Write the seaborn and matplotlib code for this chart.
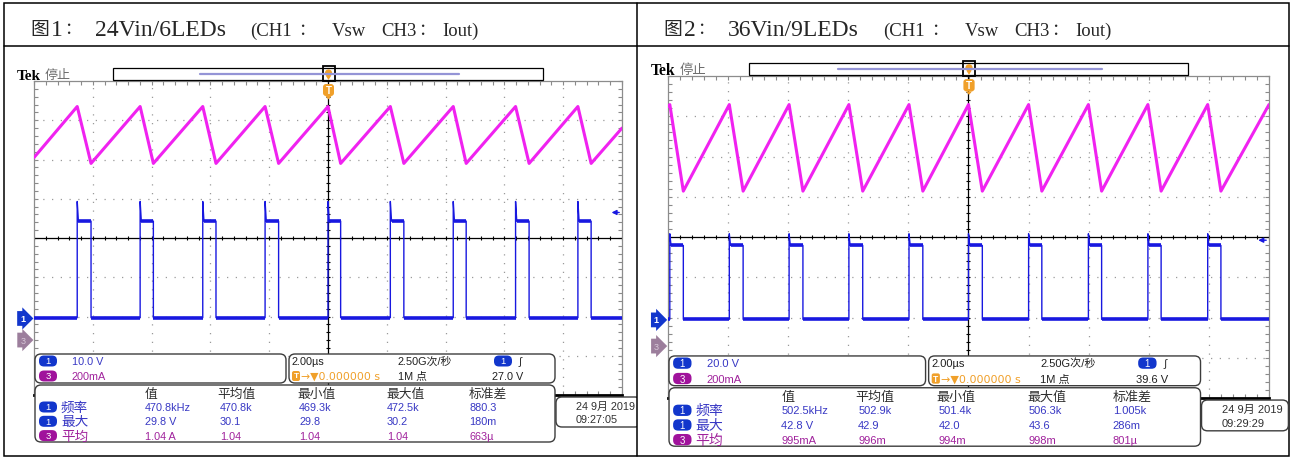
import numpy as np
import seaborn as sns
import matplotlib.pyplot as plt
from matplotlib.patches import FancyBboxPatch, Rectangle, Polygon, Circle

W, H = 1291, 460

# ---- values ----
title_num = ["1", "2"]
title_cond = ["24Vin/6LEDs", "36Vin/9LEDs"]
sub_parts = ["(CH1", "：", "Vsw", "CH3", "：", "Iout)"]

# Vsw switching edges in µs (trigger at 0, 2.00µs/div -> screen is -10..10 µs)
rise_1 = [-8.53, -6.39, -4.26, -2.14, 0.00, 2.12, 4.26, 6.38, 8.50]
fall_1 = [-8.06, -5.94, -3.81, -1.68, 0.43, 2.58, 4.70, 6.84, 8.95]
rise_2 = [-9.94, -7.96, -5.97, -3.98, -1.98, 0.00, 2.00, 3.99, 5.97, 7.96]
fall_2 = [-9.49, -7.50, -5.51, -3.52, -1.52, 0.46, 2.44, 4.43, 6.41, 8.40]

# Vsw: low, high, ringing peak (V)
vsw_1 = [0.2, 24.8, 29.8]
vsw_2 = [0.3, 37.0, 42.8]
# Iout: valley, peak, value at left screen edge, value at right screen edge (A)
iout_1 = [0.90, 1.19, 0.93, 1.08]
iout_2 = [0.77, 1.20, 1.19, 1.20]

volts_per_div = [10.0, 20.0]
amps_per_div = [0.2, 0.2]
ch1_pos = [-2.05, -2.06]   # ground markers, in divisions
ch3_pos = [-2.60, -2.71]
trig_level = [27.0, 39.6]

scale_text = [["10.0 V", "200mA"], ["20.0 V", "200mA"]]
trig_text = ["27.0 V", "39.6 V"]
meas_cols = ["值", "平均值", "最小值", "最大值", "标准差"]
meas_rows = ["频率", "最大", "平均"]
meas_ch = ["1", "1", "3"]
meas_1 = [["470.8kHz", "470.8k", "469.3k", "472.5k", "880.3"],
          ["29.8 V", "30.1", "29.8", "30.2", "180m"],
          ["1.04 A", "1.04", "1.04", "1.04", "663µ"]]
meas_2 = [["502.5kHz", "502.9k", "501.4k", "506.3k", "1.005k"],
          ["42.8 V", "42.9", "42.0", "43.6", "286m"],
          ["995mA", "996m", "994m", "998m", "801µ"]]
stamp_date = ["24 9月 2019", "24 9月 2019"]
stamp_time = ["09:27:05", "09:29:29"]

BLUE = "#1818e0"
MAG = "#f022f0"
TBLUE = "#3838c4"
TPURP = "#a0229c"
PBLUE = "#1236cc"
PPURP = "#a0129c"
ORANGE = "#f0a02a"
GRID = "#9a9a9a"

SERIF = ["Liberation Serif", "Noto Sans CJK SC", "DejaVu Sans"]
SANS = ["Liberation Sans", "Noto Sans CJK SC", "DejaVu Sans"]

sns.set_style("white")
plt.rcParams["font.family"] = SANS

fig = plt.figure(figsize=(W / 100, H / 100), dpi=100)
ov = fig.add_axes([0, 0, 1, 1], zorder=10)
ov.set_xlim(0, W)
ov.set_ylim(H, 0)
ov.axis("off")
ov.patch.set_alpha(0)

# table frame
ov.add_patch(Rectangle((4, 4), 1285, 453, fill=False, ec="black", lw=1.1))
ov.plot([4, 1289], [47, 47], color="black", lw=1.1)
ov.plot([637, 637], [4, 457], color="black", lw=1.1)


def vsw_trace(rise, fall, lv):
    low, high, spike = lv
    t, v = [-10.0], [low]
    for r, f in zip(rise, fall):
        t += [r, r, r + 0.04, f, f]
        v += [low, spike, high, high, low]
    t.append(10.0)
    v.append(low)
    return t, v


def iout_trace(rise, fall, lv):
    valley, peak, start, end = lv
    t, v = [-10.0], [start]
    for r, f in zip(rise, fall):
        t += [r, f]
        v += [peak, valley]
    t.append(10.0)
    v.append(end)
    return t, v


def panel(k, rise, fall, vsw, iout, meas, gx, gy, gw, gh, dx, clip_x):
    sx, sy = gw / 588, gh / 314
    fz = sx

    def P(x, y):
        return gx + (x - 34) * sx, gy + (y - 82) * sy

    clip = Rectangle((4, 47), clip_x - 4, 410, transform=ov.transData)

    # ---- scope screen ----
    ax = fig.add_axes([gx / W, 1 - (gy + gh) / H, gw / W, gh / H])
    ax.set_xlim(-10, 10)
    ax.set_ylim(-4, 4)
    for d in (-8, -6, -4, -2, 2, 4, 6, 8):
        ax.axvline(d, color=GRID, lw=0.9, ls=(0, (1, 6)), zorder=1)
    for d in (-3, -2, -1, 1, 2, 3):
        ax.axhline(d, color=GRID, lw=0.9, ls=(0, (1, 6)), zorder=1)
    ax.axvline(0, color="black", lw=0.9, zorder=1)
    ax.axhline(0, color="black", lw=0.9, zorder=1)
    tx = np.arange(-10, 10.01, 0.4)
    ty = np.arange(-4, 4.01, 0.2)
    ax.plot(tx, np.zeros_like(tx), ls="none", marker="|", ms=3, color="black", mew=0.8)
    ax.plot(np.zeros_like(ty), ty, ls="none", marker="_", ms=3, color="black", mew=0.8)
    ax.set_xticks(tx)
    ax.set_yticks(ty)
    ax.tick_params(direction="in", length=3, width=0.8, color="#8a8a8a",
                   labelbottom=False, labelleft=False, top=True, right=True,
                   bottom=True, left=True)
    for s in ax.spines.values():
        s.set_color("#8c8c8c")
        s.set_linewidth(0.9)
    ax.spines["bottom"].set_color("black")
    ax.spines["bottom"].set_linewidth(2)

    # Vsw (CH1)
    t, v = vsw_trace(rise, fall, vsw)
    y = [val / volts_per_div[k] + ch1_pos[k] for val in v]
    sns.lineplot(x=t, y=y, ax=ax, color=BLUE, linewidth=1.0, sort=False,
                 estimator=None, zorder=3)
    lo = vsw[0] / volts_per_div[k] + ch1_pos[k]
    hi = vsw[1] / volts_per_div[k] + ch1_pos[k]
    starts = [-10.0] + fall
    ends = rise + [10.0]
    ax.hlines([lo] * len(starts), starts, ends, color=BLUE, lw=2.6, zorder=3)
    ax.hlines([hi] * len(rise), [r + 0.04 for r in rise], fall, color=BLUE, lw=2.6, zorder=3)

    # Iout (CH3)
    t, v = iout_trace(rise, fall, iout)
    y = [val / amps_per_div[k] + ch3_pos[k] for val in v]
    sns.lineplot(x=t, y=y, ax=ax, color=MAG, linewidth=2.2, sort=False,
                 estimator=None, zorder=4)
    ax.set(xlabel=None, ylabel=None)

    # trigger level arrow
    tl = trig_level[k] / volts_per_div[k] + ch1_pos[k]
    ax.annotate("", xy=(9.55, tl), xytext=(10, tl),
                arrowprops=dict(arrowstyle="-|>", color=BLUE, lw=1, mutation_scale=7))

    # channel ground markers
    ax.text(-10.3, ch1_pos[k], "1", ha="right", va="center", color="white",
            fontsize=6.5, fontweight="bold", clip_on=False,
            bbox=dict(boxstyle="rarrow,pad=0.32", fc=PBLUE, ec="none"))
    ax.text(-10.3, ch3_pos[k], "3", ha="right", va="center", color="#d8c8d8",
            fontsize=6.5, clip_on=False,
            bbox=dict(boxstyle="rarrow,pad=0.32", fc="#9c7e9c", ec="none"))

    # ---- header texts ----
    ov.text(30 + dx, 30, "图", fontsize=13.5, family=SERIF, va="center")
    ov.text(51 + dx, 30, title_num[k], fontsize=17, family=SERIF, va="center")
    ov.text(64 + dx, 30, "：", fontsize=12, family=SERIF, va="center")
    ov.text(95 + dx, 30, title_cond[k], fontsize=17, family=SERIF, va="center")
    for px, s in zip([250, 298, 332, 381, 418, 442], sub_parts):
        ov.text(px + dx, 31, s, fontsize=13.5 if s != "：" else 12,
                family=SERIF, va="center")

    # ---- overlay helpers ----
    def txt(x, y, s, size, color, **kw):
        X, Y = P(x, y)
        return ov.text(X, Y, s, fontsize=size * fz, color=color, va="center",
                       ha=kw.pop("ha", "left"), **kw)

    def rbox(x0, y0, x1, y1, r=6, ec="#3c3c3c", fc="white", lw=1.0):
        X0, Y0 = P(x0, y0)
        X1, Y1 = P(x1, y1)
        p = FancyBboxPatch((X0, Y0), X1 - X0, Y1 - Y0,
                           boxstyle=f"round,pad=0,rounding_size={r}",
                           ec=ec, fc=fc, lw=lw)
        ov.add_patch(p)
        return p

    def pill(cx, cy, s, fc):
        rbox(cx - 9, cy - 5.5, cx + 9, cy + 5.5, r=5, ec="none", fc=fc)
        txt(cx, cy, s, 6.8, "white", ha="center")

    # Tek label and record bar
    txt(17, 76, "Tek", 11, "black", family=SERIF, fontweight="bold")
    txt(45, 76, "停止", 9.4, "#6e6e6e")
    X0, Y0 = P(113, 69)
    X1, Y1 = P(543, 81)
    ov.add_patch(Rectangle((X0, Y0), X1 - X0, Y1 - Y0, fc="white", ec="black", lw=0.9))
    L0, LY = P(200, 75)
    L1, _ = P(459, 75)
    ov.plot([L0, L1], [LY, LY], color="#9494d6", lw=1.6)
    cx, cy = P(328.5, 74)
    ov.add_patch(Circle((cx, cy), 3.6, fc=ORANGE, ec="none"))
    ov.add_patch(Polygon([(cx - 2.5, cy + 3), (cx + 2.5, cy + 3), (cx, cy + 7)],
                         fc=ORANGE, ec="none"))
    B0, BY0 = P(322.5, 67)
    B1, BY1 = P(334.5, 82)
    ov.add_patch(Rectangle((B0, BY0), B1 - B0, BY1 - BY0, fill=False, ec="black", lw=1.3))
    # trigger position marker
    rbox(323, 85, 334, 97, r=3, ec="none", fc=ORANGE)
    tx0, ty0 = P(328.5, 97)
    ov.add_patch(Polygon([(tx0 - 3, ty0), (tx0 + 3, ty0), (tx0, ty0 + 3.5)],
                         fc=ORANGE, ec="none"))
    txt(328.5, 91, "T", 7, "white", ha="center", fontweight="bold")

    # channel scale box
    rbox(35, 355, 286, 384)
    pill(48, 362, "1", PBLUE)
    pill(48, 377, "3", PPURP)
    txt(72, 362, scale_text[k][0], 7.8, TBLUE)
    txt(72, 377, scale_text[k][1], 7.8, TPURP)

    # timebase / trigger box
    rbox(289, 355, 555, 384)
    txt(292, 362, "2.00µs", 7.8, "#202020")
    rbox(292, 372, 300, 382, r=2, ec="none", fc=ORANGE)
    txt(296, 377, "T", 6, "white", ha="center", fontweight="bold")
    txt(301, 377, "→▼0.000000 s", 7.8, ORANGE, family=["DejaVu Sans"])
    txt(398, 362, "2.50G次/秒", 7.8, "#202020")
    txt(398, 377, "1M 点", 7.8, "#202020")
    pill(503, 362, "1", PBLUE)
    txt(519, 362, "∫", 8, "#303030")
    txt(492, 377, trig_text[k], 7.8, "#202020")

    # measurement table
    rbox(35, 386, 555, 443)
    col_x = [145, 217, 297, 386, 469]
    val_x = [145, 220, 299, 387, 469]
    for cxh, h in zip(col_x, meas_cols):
        txt(cxh, 395, h, 9.2, "#303030")
    for r, (lab, ch, vals) in enumerate(zip(meas_rows, meas_ch, meas)):
        yy = 408 + r * 14.3
        col = TBLUE if ch == "1" else TPURP
        pill(48, yy, ch, PBLUE if ch == "1" else PPURP)
        txt(61, yy, lab, 9.8, col)
        for vx, s in zip(val_x, vals):
            txt(vx, yy, s, 7.8, col)

    # date stamp (cut off by the table border on the left image)
    p = rbox(556, 398, 641, 428)
    p.set_clip_path(clip)
    t1 = txt(576, 407, stamp_date[k], 7.8, "#303030")
    t2 = txt(576, 420, stamp_time[k], 7.8, "#303030")
    t1.set_clip_path(clip)
    t2.set_clip_path(clip)


panel(0, rise_1, fall_1, vsw_1, iout_1, meas_1, 34, 82, 588, 314, 0, 637)
panel(1, rise_2, fall_2, vsw_2, iout_2, meas_2, 668, 77, 601, 322, 633, 1289)

fig.savefig("out.png", dpi=100)
